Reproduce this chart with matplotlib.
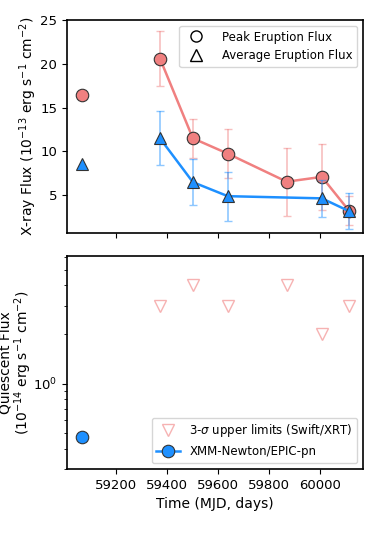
import numpy as np
import matplotlib
matplotlib.use("Agg")
import matplotlib.pyplot as plt
from matplotlib.ticker import LogLocator, NullFormatter

# eruption epochs (MJD)
t_xmm = [59067]
t_swift = [59373, 59502, 59639, 59870, 60008, 60114]

# peak eruption flux (1e-13 erg/s/cm2)
peak_xmm = [16.4]
peak = [20.6, 11.5, 9.75, 6.55, 7.1, 3.26]
peak_err = [3.1, 2.2, 2.8, 3.9, 3.8, 1.7]

# average eruption flux
t_avg = [59373, 59502, 59639, 60008, 60114]
avg_xmm = [8.6]
avg = [11.5, 6.5, 4.9, 4.65, 3.2]
avg_err = [3.1, 2.6, 2.8, 2.1, 2.1]

# quiescent flux (1e-14 erg/s/cm2)
q_xmm = [0.47]
q_ul = [3.0, 4.0, 3.0, 4.0, 2.0, 3.0]

red = "lightcoral"
blue = "dodgerblue"

plt.rcParams["font.size"] = 10
plt.rcParams["xtick.labelsize"] = 9.5
plt.rcParams["ytick.labelsize"] = 9.5

fig = plt.figure(figsize=(3.74, 5.34), dpi=100)
ax1 = fig.add_axes([0.179, 0.5637, 0.792, 0.3989])
ax2 = fig.add_axes([0.179, 0.1217, 0.792, 0.3989], sharex=ax1)

# top panel
ax1.errorbar(t_swift, peak, yerr=peak_err, fmt="none", ecolor=red,
             alpha=0.5, capsize=3, elinewidth=1.2, zorder=1)
ax1.plot(t_swift, peak, "-", color=red, lw=1.8, zorder=2)
ax1.plot(t_swift + t_xmm, peak + peak_xmm, "o", ls="none", color=red,
         ms=9, mec="#333333", mew=0.8, zorder=3)
ax1.errorbar(t_avg, avg, yerr=avg_err, fmt="none", ecolor=blue,
             alpha=0.5, capsize=3, elinewidth=1.2, zorder=4)
ax1.plot(t_avg, avg, "-", color=blue, lw=1.8, zorder=5)
ax1.plot(t_avg + t_xmm, avg + avg_xmm, "^", ls="none", color=blue,
         ms=9, mec="#333333", mew=0.8, zorder=6)

ax1.plot([], [], "o", ls="none", mfc="white", mec="black", ms=8,
         label="Peak Eruption Flux")
ax1.plot([], [], "^", ls="none", mfc="white", mec="black", ms=8,
         label="Average Eruption Flux")
ax1.legend(loc="upper right", fontsize=8.5, handletextpad=1.2)

ax1.set_ylim(0.7, 25)
ax1.set_yticks([5, 10, 15, 20, 25])
ax1.set_ylabel(r"X-ray Flux ($10^{-13}$ erg s$^{-1}$ cm$^{-2}$)")
ax1.yaxis.set_label_coords(-0.095, 0.5)
ax1.tick_params(labelbottom=False)

# bottom panel
ax2.plot(t_swift, q_ul, "v", ls="none", mfc="none", mec=red, alpha=0.6,
         ms=9, mew=1, label="3-$\\sigma$ upper limits (Swift/XRT)")
ax2.plot(t_xmm, q_xmm, "o-", color=blue, ms=9, mec="#333333", mew=0.8,
         lw=1.8, label="XMM-Newton/EPIC-pn")
ax2.set_yscale("log")
ax2.set_ylim(0.3, 6.05)
ax2.yaxis.set_minor_locator(LogLocator(base=10, subs=np.arange(2, 10)))
ax2.yaxis.set_minor_formatter(NullFormatter())
ax2.set_ylabel("Quiescent Flux\n" + r"($10^{-14}$ erg s$^{-1}$ cm$^{-2}$)",
               linespacing=1.0)
ax2.yaxis.set_label_coords(-0.11, 0.5)
ax2.set_xlabel("Time (MJD, days)")
ax2.legend(loc="lower right", fontsize=8.5)

ax2.set_xlim(59008, 60170)
ax2.set_xticks([59200, 59400, 59600, 59800, 60000])

for ax in (ax1, ax2):
    for s in ax.spines.values():
        s.set_linewidth(1.2)

fig.savefig("out.png", dpi=100)
